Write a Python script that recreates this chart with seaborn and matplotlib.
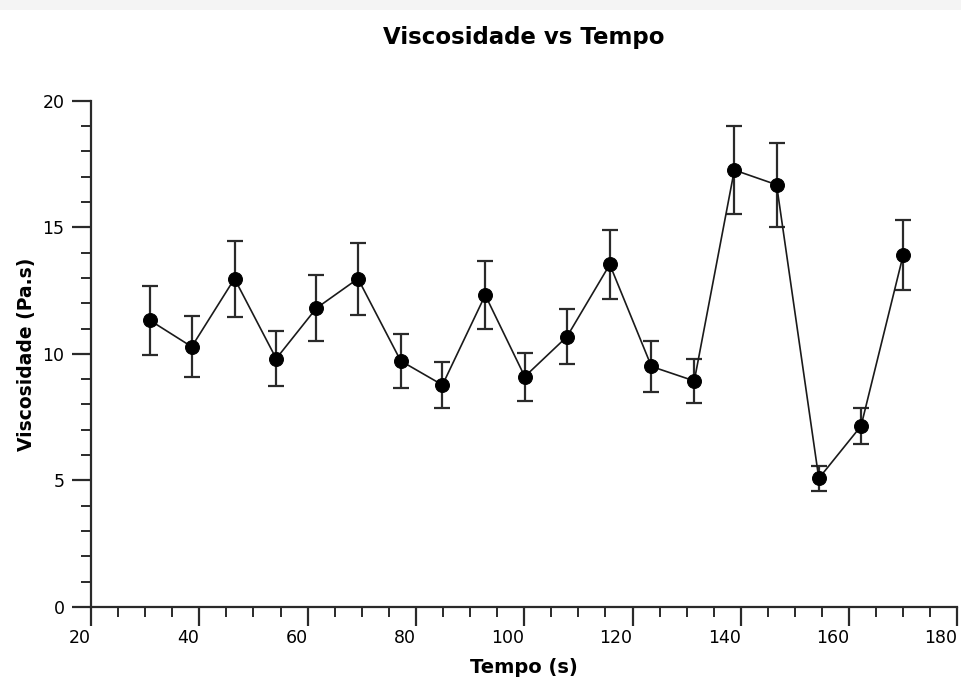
import matplotlib
matplotlib.use("Agg")
import matplotlib.pyplot as plt
from matplotlib.ticker import MultipleLocator
from matplotlib.patches import Rectangle
import seaborn as sns
import pandas as pd

# Data
tempo = [30.9, 38.6, 46.5, 54.2, 61.6, 69.3, 77.2, 84.9, 92.8, 100.1,
         107.9, 115.8, 123.5, 131.4, 138.8, 146.6, 154.4, 162.2, 170.0]
viscosidade = [11.32, 10.28, 12.97, 9.81, 11.80, 12.97, 9.72, 8.77, 12.32, 9.10,
               10.68, 13.53, 9.50, 8.93, 17.26, 16.68, 5.08, 7.15, 13.92]
erro = [1.35, 1.20, 1.50, 1.10, 1.30, 1.42, 1.05, 0.92, 1.35, 0.95,
        1.10, 1.38, 1.00, 0.87, 1.74, 1.66, 0.50, 0.72, 1.38]

titulo = "Viscosidade vs Tempo"
rotulo_x = "Tempo (s)"
rotulo_y = "Viscosidade (Pa.s)"

df = pd.DataFrame({"Tempo": tempo, "Viscosidade": viscosidade, "Erro": erro})

sns.set_style("ticks")
plt.rcParams['font.family'] = ['DejaVu Sans']
plt.rcParams['text.color'] = 'black'
plt.rcParams['axes.labelcolor'] = 'black'

fig = plt.figure(figsize=(9.61, 6.84), dpi=100)
fig.patches.append(Rectangle((0, 0.985), 1, 0.015, transform=fig.transFigure,
                             facecolor="#f4f4f4", edgecolor="none", zorder=0))
ax = fig.add_axes([0.0947, 0.1126, 0.9016, 0.7402])

ax.errorbar(df["Tempo"], df["Viscosidade"], yerr=df["Erro"], fmt="none",
            ecolor="#2a2a2a", elinewidth=1.6, capsize=5.5, capthick=1.6, zorder=2)
sns.lineplot(data=df, x="Tempo", y="Viscosidade", ax=ax, color="#1a1a1a",
             linewidth=1.2, marker="o", markersize=10, markeredgecolor="black",
             markerfacecolor="black", zorder=3)

ax.set_xlim(20, 180)
ax.set_ylim(0, 20)
ax.xaxis.set_major_locator(MultipleLocator(20))
ax.xaxis.set_minor_locator(MultipleLocator(5))
ax.yaxis.set_major_locator(MultipleLocator(5))
ax.yaxis.set_minor_locator(MultipleLocator(1))

for s in ["top", "right"]:
    ax.spines[s].set_visible(False)
for s in ["left", "bottom"]:
    ax.spines[s].set_linewidth(1.6)
    ax.spines[s].set_color("#2a2a2a")

ax.tick_params(which="major", direction="out", length=14, width=1.6,
               color="#2a2a2a", labelsize=12.5, labelcolor="black")
ax.tick_params(which="minor", direction="out", length=7.5, width=1.4,
               color="#2a2a2a")
ax.tick_params(axis="x", which="major", pad=1.5)
ax.tick_params(axis="y", which="major", pad=5)
for lab in ax.get_xticklabels():
    lab.set_horizontalalignment("right")

ax.set_xlabel(rotulo_x, fontsize=14, fontweight="bold", labelpad=8, color="black")
ax.set_ylabel(rotulo_y, fontsize=13.5, fontweight="bold", labelpad=5, color="black")
ax.set_title(titulo, fontsize=16.5, fontweight="bold", pad=41, color="black")

fig.savefig("out.png", dpi=100)
